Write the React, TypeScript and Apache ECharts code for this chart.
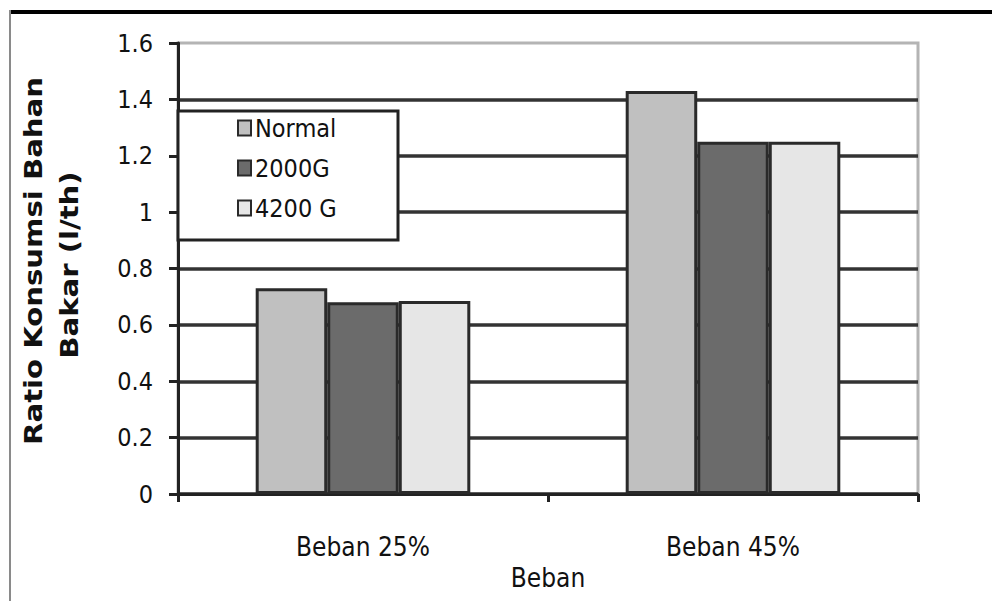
import React, { useEffect, useRef } from "react";
import * as echarts from "echarts";

// Load levels on the category axis
const categories = ["Beban 25%", "Beban 45%"];

// Fuel consumption ratio per load, one array per magnet treatment
const seriesNames = ["Normal", "2000G", "4200 G"];
const normalValues = [0.73, 1.43];
const g2000Values = [0.68, 1.25];
const g4200Values = [0.685, 1.25];

const seriesColors = ["#c0c0c0", "#6b6b6b", "#e6e6e6"];

const yTitleLines = ["Ratio Konsumsi Bahan", "Bakar (l/th)"];
const xTitle = "Beban";

const FONT = "'DejaVu Sans Condensed', 'Liberation Sans Narrow', 'DejaVu Sans', sans-serif";

export default function App() {
  const ref = useRef<HTMLDivElement>(null);

  useEffect(() => {
    if (!ref.current) return;
    const chart = echarts.init(ref.current, undefined, { renderer: "svg" });

    const values = [normalValues, g2000Values, g4200Values];

    chart.setOption({
      animation: false,
      backgroundColor: "#ffffff",
      textStyle: { fontFamily: FONT },
      grid: {
        left: 178,
        right: 74,
        top: 43,
        bottom: 107,
        show: true,
        borderColor: "#b4b4b4",
        borderWidth: 3,
        backgroundColor: "transparent",
      },
      legend: {
        orient: "vertical",
        left: 237,
        top: 113,
        padding: 0,
        icon: "rect",
        itemWidth: 13,
        itemHeight: 15,
        itemGap: 10,
        z: 20,
        data: seriesNames,
        textStyle: {
          fontFamily: FONT,
          fontSize: 25,
          color: "#111",
          lineHeight: 30,
          padding: [0, 0, 0, -1],
        },
      },
      xAxis: {
        type: "category",
        data: categories,
        boundaryGap: true,
        axisLine: { show: true, lineStyle: { color: "#222", width: 3 } },
        axisTick: { show: true, length: 8, lineStyle: { color: "#222", width: 3 } },
        axisLabel: {
          margin: 40,
          fontFamily: FONT,
          fontSize: 26,
          color: "#111",
        },
        name: xTitle,
        nameLocation: "middle",
        nameGap: 67,
        nameTextStyle: { fontFamily: FONT, fontSize: 26, color: "#111", verticalAlign: "top" },
        splitLine: { show: false },
      },
      yAxis: {
        type: "value",
        min: 0,
        max: 1.6,
        interval: 0.2,
        axisLine: { show: true, lineStyle: { color: "#222", width: 3 } },
        axisTick: { show: true, length: 9, lineStyle: { color: "#222", width: 3 } },
        axisLabel: {
          margin: 25,
          fontFamily: FONT,
          fontSize: 25,
          color: "#111",
        },
        splitLine: {
          show: true,
          showMaxLine: false,
          lineStyle: { color: "#333", width: 3.5 },
        },
      },
      graphic: [
        {
          type: "line",
          z: 30,
          shape: { x1: 10, y1: 12, x2: 992, y2: 12 },
          style: { stroke: "#000", lineWidth: 4 },
        },
        {
          type: "line",
          z: 30,
          shape: { x1: 10, y1: 10, x2: 10, y2: 601 },
          style: { stroke: "#8a8a8a", lineWidth: 2 },
        },
        {
          type: "rect",
          z: 10,
          shape: { x: 178, y: 111, width: 220, height: 129 },
          style: { fill: "#ffffff", stroke: "#222", lineWidth: 3 },
        },
        {
          type: "text",
          z: 30,
          x: 34,
          y: 261,
          rotation: Math.PI / 2,
          scaleX: 1.35,
          style: {
            text: yTitleLines[0],
            font: `bold 24px ${FONT}`,
            fill: "#111",
            align: "center",
            verticalAlign: "middle",
            textAlign: "center",
            textVerticalAlign: "middle",
          },
        },
        {
          type: "text",
          z: 30,
          x: 70,
          y: 265,
          rotation: Math.PI / 2,
          scaleX: 1.35,
          style: {
            text: yTitleLines[1],
            font: `bold 24px ${FONT}`,
            fill: "#111",
            align: "center",
            verticalAlign: "middle",
            textAlign: "center",
            textVerticalAlign: "middle",
          },
        },
      ],
      series: seriesNames.map((name, i) => ({
        name,
        type: "bar",
        data: values[i],
        barGap: "0%",
        barCategoryGap: "42%",
        itemStyle: {
          color: seriesColors[i],
          borderColor: "#2a2a2a",
          borderWidth: 3,
        },
      })),
    });

    return () => chart.dispose();
  }, []);

  return (
    <div
      ref={ref}
      style={{ position: "fixed", left: 0, top: 0, width: 992, height: 601, background: "#fff" }}
    />
  );
}
